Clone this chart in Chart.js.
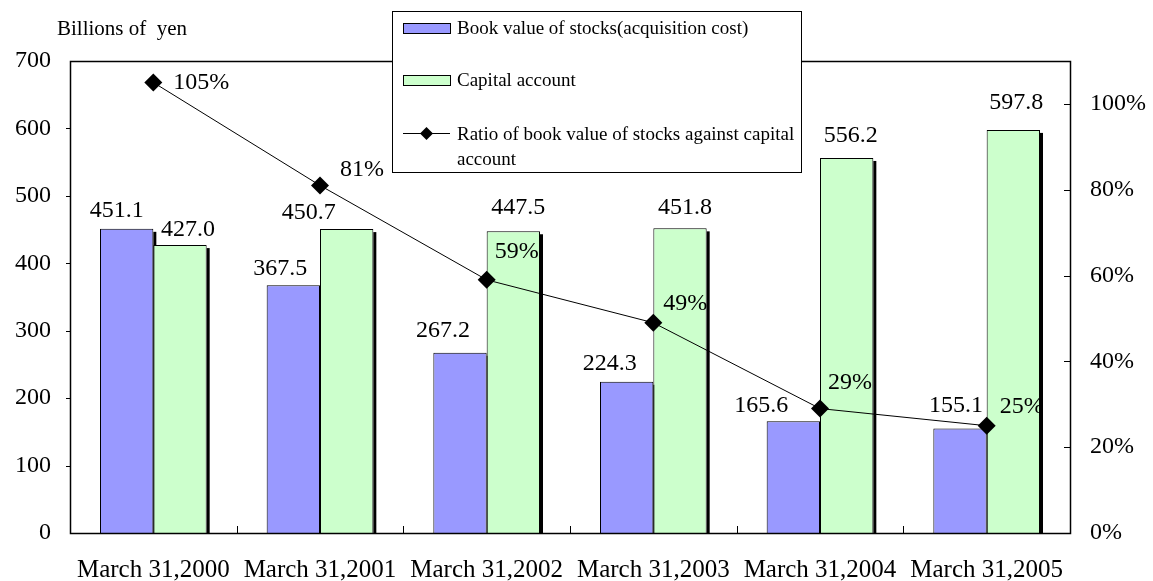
<!DOCTYPE html>
<html>
<head>
<meta charset="utf-8">
<script src="https://cdn.jsdelivr.net/npm/chart.js@4/dist/chart.umd.min.js"></script>
<style>
  html, body { margin: 0; padding: 0; background: #ffffff; }
  #wrap { width: 1153px; height: 581px; }
</style>
</head>
<body>
<div id="wrap"><canvas id="c" width="1153" height="581"></canvas></div>
<script>
// ---- data ----
const categories = ['March 31,2000', 'March 31,2001', 'March 31,2002', 'March 31,2003', 'March 31,2004', 'March 31,2005'];
const bookValue = [451.1, 367.5, 267.2, 224.3, 165.6, 155.1];
const capitalAccount = [427.0, 450.7, 447.5, 451.8, 556.2, 597.8];
const ratioPct = [105, 81, 59, 49, 29, 25];
const bookName = 'Book value of stocks(acquisition cost)';
const capitalName = 'Capital account';
const ratioName = 'Ratio of book value of stocks against capital account';
const unitLabel = 'Billions of  yen';

// ---- styles ----
const FONT = '"Liberation Serif", "Times New Roman", serif';
const BLUE = '#9999FF';
const GREEN = '#CCFFCC';
// label nudges (pixels) to follow the reference placement
const blueLabelNudge = { dx: [-10, -13, -17, -17, -32, -4], dy: [-18, -16, -22, -18, -16, -23] };
const greenLabelNudge = { dx: [8, -38, 5, 5, 4, 3], dy: [-15, -16, -24, -21, -22, -27] };
const ratioLabelNudge = { dx: [20, 20, 8, 10, 8, 13], dy: [0, -16, -28, -19, -26, -19] };

// dataset indices: 0 = ratio line (drawn on top), 1 = book value bars, 2 = capital bars
const shadowPlugin = {
  id: 'barShadow',
  beforeDatasetsDraw(chart) {
    const ctx = chart.ctx;
    ctx.save();
    ctx.fillStyle = '#000000';
    [1, 2].forEach(di => {
      chart.getDatasetMeta(di).data.forEach(el => {
        const p = el.getProps(['x', 'y', 'base', 'width'], true);
        const right = p.x + p.width / 2;
        ctx.fillRect(right, p.y + 3, 3, p.base - p.y - 3);
      });
    });
    ctx.restore();
  }
};

const framePlugin = {
  id: 'frame',
  afterDatasetsDraw(chart) {
    const ctx = chart.ctx;
    const a = chart.chartArea;
    ctx.save();
    ctx.strokeStyle = '#000000';
    ctx.lineWidth = 1.5;
    ctx.strokeRect(Math.round(a.left) + 0.5, Math.round(a.top) + 0.5, Math.round(a.right - a.left), Math.round(a.bottom - a.top));
    ctx.lineWidth = 1;
    const y = chart.scales.y;
    y.ticks.forEach((t, i) => {
      if (t.value === 0 || t.value === y.max) return;
      const py = Math.round(y.getPixelForTick(i)) + 0.5;
      ctx.beginPath(); ctx.moveTo(a.left - 4, py); ctx.lineTo(a.left, py); ctx.stroke();
    });
    const y1 = chart.scales.y1;
    y1.ticks.forEach((t, i) => {
      if (t.value === 0) return;
      const py = Math.round(y1.getPixelForTick(i)) + 0.5;
      ctx.beginPath(); ctx.moveTo(a.right - 6, py); ctx.lineTo(a.right, py); ctx.stroke();
    });
    const x = chart.scales.x;
    for (let i = 1; i < categories.length; i++) {
      const px = Math.round((x.getPixelForValue(i - 1) + x.getPixelForValue(i)) / 2) + 0.5;
      ctx.beginPath(); ctx.moveTo(px, a.bottom - 7); ctx.lineTo(px, a.bottom); ctx.stroke();
    }
    ctx.restore();
  },
  afterDraw(chart) {
    const ctx = chart.ctx;
    ctx.save();
    ctx.fillStyle = '#000000';
    ctx.font = '21px ' + FONT;
    ctx.textAlign = 'left';
    ctx.textBaseline = 'alphabetic';
    ctx.fillText(unitLabel, 57, 35);

    // value labels
    ctx.font = '24px ' + FONT;
    ctx.textBaseline = 'middle';
    ctx.textAlign = 'center';
    const mLine = chart.getDatasetMeta(0), mBook = chart.getDatasetMeta(1), mCap = chart.getDatasetMeta(2);
    mBook.data.forEach((el, i) => {
      ctx.fillText(bookValue[i].toFixed(1), el.x + blueLabelNudge.dx[i], el.y + blueLabelNudge.dy[i]);
    });
    mCap.data.forEach((el, i) => {
      ctx.fillText(capitalAccount[i].toFixed(1), el.x + greenLabelNudge.dx[i], el.y + greenLabelNudge.dy[i]);
    });
    ctx.textAlign = 'left';
    mLine.data.forEach((el, i) => {
      ctx.fillText(ratioPct[i] + '%', el.x + ratioLabelNudge.dx[i], el.y + ratioLabelNudge.dy[i]);
    });

    // legend box
    const L = 392, T = 11, R = 801, B = 172;
    ctx.fillStyle = '#ffffff';
    ctx.fillRect(L, T, R - L, B - T);
    ctx.strokeStyle = '#000000';
    ctx.lineWidth = 1;
    ctx.strokeRect(L + 0.5, T + 0.5, R - L, B - T);
    ctx.fillStyle = BLUE; ctx.fillRect(403, 23, 47, 10);
    ctx.strokeRect(403.5, 23.5, 47, 10);
    ctx.fillStyle = GREEN; ctx.fillRect(403, 75, 47, 10);
    ctx.strokeRect(403.5, 75.5, 47, 10);
    ctx.beginPath(); ctx.moveTo(403, 133.5); ctx.lineTo(450, 133.5); ctx.stroke();
    ctx.fillStyle = '#000000';
    ctx.beginPath();
    ctx.moveTo(426.5, 127); ctx.lineTo(433, 133.5); ctx.lineTo(426.5, 140); ctx.lineTo(420, 133.5); ctx.closePath();
    ctx.fill();
    ctx.font = '19px ' + FONT;
    ctx.textAlign = 'left';
    ctx.textBaseline = 'alphabetic';
    ctx.fillText(bookName, 457, 34);
    ctx.fillText(capitalName, 457, 86);
    const words = ratioName.split(' ');
    const maxW = R - 457 - 3;
    let line = '', lines = [];
    words.forEach(w => {
      const test = line ? line + ' ' + w : w;
      if (ctx.measureText(test).width > maxW && line) { lines.push(line); line = w; } else { line = test; }
    });
    lines.push(line);
    lines.forEach((ln, k) => ctx.fillText(ln, 457, 140 + k * 25));
    ctx.restore();
  }
};

new Chart(document.getElementById('c'), {
  data: {
    labels: categories,
    datasets: [
      { type: 'line', label: ratioName, data: ratioPct, yAxisID: 'y1',
        borderColor: '#000000', borderWidth: 1, backgroundColor: '#000000',
        pointStyle: 'rectRot', pointRadius: 9, pointBorderWidth: 0, pointBackgroundColor: '#000000',
        tension: 0, fill: false },
      { type: 'bar', label: bookName, data: bookValue, yAxisID: 'y',
        backgroundColor: BLUE, borderColor: '#000000', borderWidth: 1,
        categoryPercentage: 0.64, barPercentage: 1.0 },
      { type: 'bar', label: capitalName, data: capitalAccount, yAxisID: 'y',
        backgroundColor: GREEN, borderColor: '#000000', borderWidth: 1,
        categoryPercentage: 0.64, barPercentage: 1.0 }
    ]
  },
  options: {
    responsive: false,
    animation: false,
    events: [],
    layout: { padding: { top: 61, left: 0, right: 0, bottom: 0 } },
    plugins: { legend: { display: false }, tooltip: { enabled: false }, title: { display: false } },
    scales: {
      x: {
        type: 'category',
        offset: true,
        grid: { display: false, drawTicks: false },
        border: { display: false },
        ticks: { color: '#000000', font: { family: FONT, size: 25 }, padding: 22, maxRotation: 0, autoSkip: false },
        afterFit(s) { s.height = 48; }
      },
      y: {
        position: 'left',
        min: 0, max: 700,
        grid: { display: false, drawTicks: false },
        border: { display: false },
        ticks: { stepSize: 100, color: '#000000', font: { family: FONT, size: 24 }, padding: 19 },
        afterFit(s) { s.width = 70; }
      },
      y1: {
        position: 'right',
        min: 0, max: 110,
        grid: { display: false, drawTicks: false },
        border: { display: false },
        ticks: { stepSize: 20, color: '#000000', font: { family: FONT, size: 24 }, padding: 20,
          callback: v => v + '%' },
        afterBuildTicks(s) { s.ticks = s.ticks.filter(t => t.value <= 100); },
        afterFit(s) { s.width = 83; }
      }
    }
  },
  plugins: [shadowPlugin, framePlugin]
});
</script>
</body>
</html>
